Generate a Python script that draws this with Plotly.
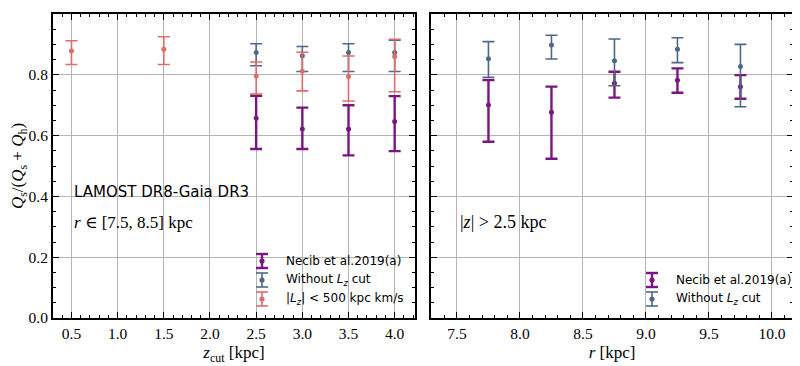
import plotly.graph_objects as go
from plotly.subplots import make_subplots

# ---------------- data ----------------
# Left panel: z_cut [kpc]
zcut_necib = [2.5, 3.0, 3.5, 4.0]
necib_left = [0.657, 0.622, 0.622, 0.646]
necib_left_hi = [0.731, 0.692, 0.700, 0.730]
necib_left_lo = [0.556, 0.556, 0.535, 0.549]

zcut_nolz = [2.5, 3.0, 3.5, 4.0]
nolz_left = [0.873, 0.863, 0.873, 0.873]
nolz_left_hi = [0.902, 0.893, 0.902, 0.914]
nolz_left_lo = [0.830, 0.811, 0.811, 0.811]

zcut_lz = [0.5, 1.5, 2.5, 3.0, 3.5, 4.0]
lz_left = [0.878, 0.884, 0.796, 0.812, 0.794, 0.860]
lz_left_hi = [0.912, 0.925, 0.842, 0.874, 0.862, 0.917]
lz_left_lo = [0.834, 0.834, 0.737, 0.747, 0.714, 0.744]

# Right panel: r [kpc]
r_bins = [7.75, 8.25, 8.75, 9.25, 9.75]
necib_right = [0.701, 0.677, 0.772, 0.782, 0.761]
necib_right_hi = [0.783, 0.761, 0.810, 0.821, 0.799]
necib_right_lo = [0.580, 0.524, 0.725, 0.741, 0.721]

nolz_right = [0.853, 0.898, 0.846, 0.884, 0.827]
nolz_right_hi = [0.909, 0.930, 0.918, 0.922, 0.900]
nolz_right_lo = [0.792, 0.852, 0.764, 0.840, 0.695]

x_ticks_left = [0.5, 1.0, 1.5, 2.0, 2.5, 3.0, 3.5, 4.0]
x_ticks_right = [7.5, 8.0, 8.5, 9.0, 9.5, 10.0]
y_ticks = [0.0, 0.2, 0.4, 0.6, 0.8, 1.0]

legend_left = ["Necib et al.2019(a)", "Without <i>L<sub>z</sub></i> cut",
               "|<i>L<sub>z</sub></i>| &lt; 500 kpc km/s"]
legend_right = ["Necib et al.2019(a)", "Without <i>L<sub>z</sub></i> cut"]

PURPLE = "#7b157f"
BLUE = "#4c6a88"
PINK = "#e06b6b"
SERIF = "Liberation Serif, DejaVu Serif, serif"
SANS = "DejaVu Sans, Open Sans, sans-serif"
TICKFONT = dict(family=SERIF, size=15.5, color="black")

# the page body has an 8px margin, so the figure is drawn 8px in from the window corner
OFF = 8
FW, FH = 800 - OFF, 366 - OFF


def px(v):
    return (v - OFF) / FW


def py(v):
    return 1 - (v - OFF) / FH


def err(v, hi, lo):
    plus = [h - c for h, c in zip(hi, v)]
    minus = [c - l for c, l in zip(v, lo)]
    return plus, minus


fig = make_subplots(rows=1, cols=2, shared_yaxes=True, horizontal_spacing=0.02)


def add(x, v, hi, lo, color, name, col, lw, cap=6):
    p, m = err(v, hi, lo)
    fig.add_trace(go.Scatter(
        x=x, y=v, mode="markers", name=name, showlegend=False,
        marker=dict(color=color, size=5),
        error_y=dict(type="data", symmetric=False, array=p, arrayminus=m,
                     color=color, thickness=lw, width=cap),
    ), row=1, col=col)


add(zcut_necib, necib_left, necib_left_hi, necib_left_lo, PURPLE, legend_left[0], 1, 2.4)
add(zcut_nolz, nolz_left, nolz_left_hi, nolz_left_lo, BLUE, legend_left[1], 1, 1.6)
add(zcut_lz, lz_left, lz_left_hi, lz_left_lo, PINK, legend_left[2], 1, 1.6)
add(r_bins, necib_right, necib_right_hi, necib_right_lo, PURPLE, legend_right[0], 2, 2.4)
add(r_bins, nolz_right, nolz_right_hi, nolz_right_lo, BLUE, legend_right[1], 2, 1.6)

axis_common = dict(
    showline=True, linecolor="black", linewidth=2, mirror="allticks",
    ticks="inside", ticklen=6, tickwidth=1.3, tickcolor="black",
    showgrid=True, gridcolor="#b4b4b4", gridwidth=1.1, zeroline=False,
    automargin=False,
)

fig.update_xaxes(**axis_common)
fig.update_yaxes(**axis_common)

minor_x = dict(dtick=0.1, tick0=0, ticks="inside", ticklen=3, tickwidth=1, tickcolor="black", showgrid=False)
fig.update_xaxes(domain=[px(53), px(415)], range=[0.3, 4.22], tickvals=x_ticks_left,
                 ticktext=[f"{v:.1f}" for v in x_ticks_left], minor=minor_x, tickfont=TICKFONT,
                 title=dict(text="<i>z</i><sub>cut</sub> [kpc]", font=dict(family=SERIF, size=17, color="black"), standoff=6),
                 row=1, col=1)
fig.update_xaxes(domain=[px(431), px(793)], range=[7.294, 10.167], tickvals=x_ticks_right,
                 ticktext=[f"{v:.1f}" for v in x_ticks_right], minor=minor_x, tickfont=TICKFONT,
                 title=dict(text="<i>r</i> [kpc]", font=dict(family=SERIF, size=17, color="black"), standoff=6),
                 row=1, col=2)
fig.update_yaxes(domain=[py(318), py(14)], range=[0, 1.0], tickvals=y_ticks,
                 ticktext=[f"{v:.1f}" for v in y_ticks], tickfont=TICKFONT,
                 minor=dict(dtick=0.05, tick0=0, ticks="inside", ticklen=3, tickwidth=1, tickcolor="black", showgrid=False))
fig.update_yaxes(title=dict(text="<i>Q</i><sub>s</sub>/(<i>Q</i><sub>s</sub> + <i>Q</i><sub>h</sub>)",
                            font=dict(family=SERIF, size=17, color="black"), standoff=6),
                 row=1, col=1)
fig.update_yaxes(showticklabels=False, row=1, col=2)

fig.add_annotation(text="LAMOST DR8-Gaia DR3", xref="x", yref="y", x=0.505, y=0.415,
                   xanchor="left", yanchor="middle", showarrow=False,
                   font=dict(family=SANS, size=15, color="black"))
fig.add_annotation(text="<i>r</i> ∈ [7.5, 8.5] kpc", xref="x", yref="y", x=0.505, y=0.315,
                   xanchor="left", yanchor="middle", showarrow=False,
                   font=dict(family=SERIF, size=17, color="black"))
fig.add_annotation(text="|<i>z</i>| &gt; 2.5 kpc", xref="x2", yref="y", x=7.51, y=0.315,
                   xanchor="left", yanchor="middle", showarrow=False,
                   font=dict(family=SERIF, size=18, color="black"))


# ---- hand-drawn legends with error-bar glyphs (paper coordinates) ----
def legend_entry(xc, yc, color, lw, label, tx):
    fig.add_shape(type="line", xref="paper", yref="paper", x0=px(xc), x1=px(xc),
                  y0=py(yc - 7), y1=py(yc + 7), line=dict(color=color, width=lw))
    for dy in (-7, 7):
        fig.add_shape(type="line", xref="paper", yref="paper", x0=px(xc - 6), x1=px(xc + 6),
                      y0=py(yc + dy), y1=py(yc + dy), line=dict(color=color, width=lw))
    fig.add_shape(type="circle", xref="paper", yref="paper", x0=px(xc - 2.6), x1=px(xc + 2.6),
                  y0=py(yc - 2.6), y1=py(yc + 2.6), fillcolor=color, line=dict(width=0))
    fig.add_annotation(text=label, xref="paper", yref="paper", x=px(tx), y=py(yc),
                       xanchor="left", yanchor="middle", showarrow=False,
                       font=dict(family=SANS, size=12, color="black"))


for lbl, col, lw, yc in zip(legend_left, [PURPLE, BLUE, PINK], [2.4, 1.6, 1.6], [261, 280, 299]):
    legend_entry(262, yc, col, lw, lbl, 284)
for lbl, col, lw, yc in zip(legend_right, [PURPLE, BLUE], [2.4, 1.6], [280, 299]):
    legend_entry(652, yc, col, lw, lbl, 674)

fig.update_layout(
    showlegend=False,
    width=FW, height=FH, margin=dict(l=0, r=0, t=0, b=0),
    plot_bgcolor="white", paper_bgcolor="white",
)

fig.write_html("out.html")
